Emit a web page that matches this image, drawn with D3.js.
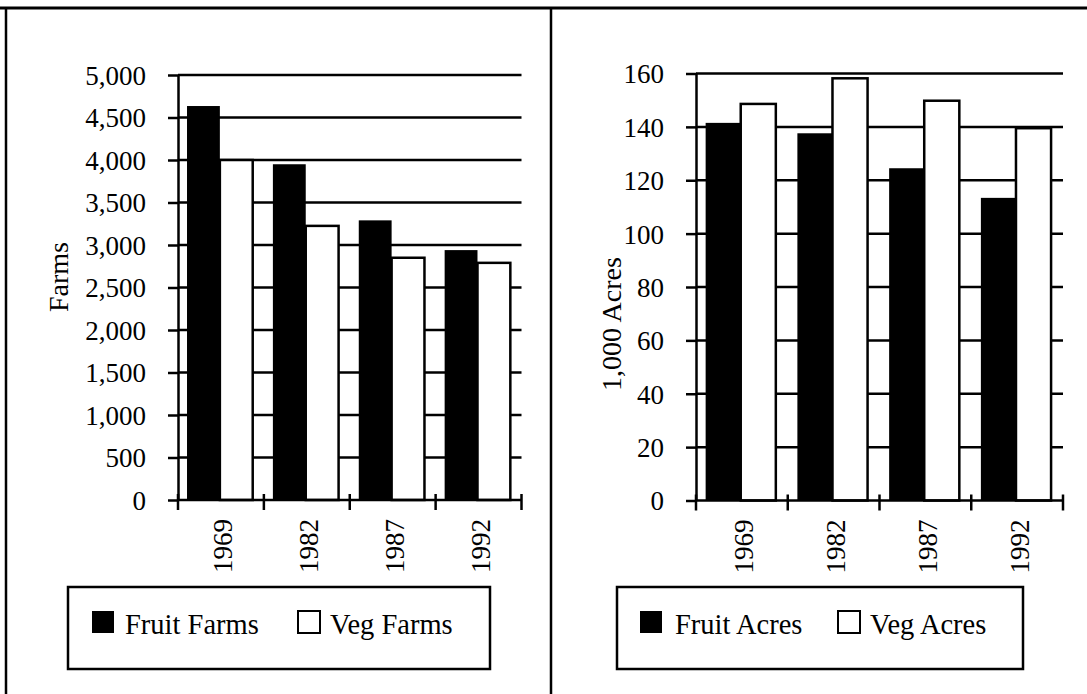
<!DOCTYPE html>
<html>
<head>
<meta charset="utf-8">
<script src="https://cdn.jsdelivr.net/npm/d3@7"></script>
<style>
  html, body { margin: 0; padding: 0; background: #fff; }
  svg { display: block; }
  text { font-family: "Liberation Serif", "Times New Roman", serif; fill: #000; }
</style>
</head>
<body>
<svg id="chart" width="1087" height="694"></svg>
<script>
// ---- data ----
const years = ["1969", "1982", "1987", "1992"];
const fruitFarms = [4635, 3950, 3290, 2940];
const vegFarms = [4000, 3225, 2850, 2790];
const fruitAcres = [141.5, 137.6, 124.5, 113.4];
const vegAcres = [148.6, 158.2, 149.8, 139.5];
const farmTicks = [0, 500, 1000, 1500, 2000, 2500, 3000, 3500, 4000, 4500, 5000];
const acreTicks = [0, 20, 40, 60, 80, 100, 120, 140, 160];
const farmLegend = ["Fruit Farms", "Veg Farms"];
const acreLegend = ["Fruit Acres", "Veg Acres"];

const svg = d3.select("#chart");
const FS = 27;
const LFS = 28.5;

// panel frame
svg.append("line").attr("x1", 0).attr("x2", 1087).attr("y1", 8).attr("y2", 8)
  .attr("stroke", "#000").attr("stroke-width", 3);
svg.append("line").attr("x1", 6).attr("x2", 6).attr("y1", 8).attr("y2", 694)
  .attr("stroke", "#000").attr("stroke-width", 2.5);
svg.append("line").attr("x1", 551).attr("x2", 551).attr("y1", 8).attr("y2", 694)
  .attr("stroke", "#000").attr("stroke-width", 2.5);

function panel(cfg) {
  const g = svg.append("g");
  const x = d3.scaleBand().domain(years).range([cfg.x0, cfg.x1]).padding(0);
  const step = x.bandwidth();
  const inner = d3.scaleBand().domain(["a", "b"]).range([0.105 * step, 0.87 * step]).padding(0);
  const y = d3.scaleLinear().domain([0, cfg.max]).range([cfg.yb, cfg.yt]);

  // gridlines
  g.append("g").selectAll("line").data(cfg.ticks.filter(d => d > 0)).join("line")
    .attr("x1", cfg.x0).attr("x2", cfg.x1)
    .attr("y1", d => y(d)).attr("y2", d => y(d))
    .attr("stroke", "#000").attr("stroke-width", 2.5);

  // fruit bars (black)
  g.append("g").selectAll("rect").data(cfg.a).join("rect")
    .attr("x", (d, i) => x(years[i]) + inner("a"))
    .attr("y", d => y(d))
    .attr("width", inner.bandwidth())
    .attr("height", d => y(0) - y(d))
    .attr("fill", "#000");

  // veg bars (white, outlined)
  g.append("g").selectAll("rect").data(cfg.b).join("rect")
    .attr("x", (d, i) => x(years[i]) + inner("b"))
    .attr("y", d => y(d))
    .attr("width", inner.bandwidth())
    .attr("height", d => y(0) - y(d))
    .attr("fill", "#fff").attr("stroke", "#000").attr("stroke-width", 2.5);

  // y axis
  const ya = g.append("g").attr("transform", `translate(${cfg.x0},0)`)
    .call(d3.axisLeft(y).tickValues(cfg.ticks).tickFormat(d3.format(","))
      .tickSizeInner(10).tickSizeOuter(0).tickPadding(22));
  ya.select(".domain").attr("stroke", "#000").attr("stroke-width", 2.5);
  ya.selectAll(".tick line").attr("stroke", "#000").attr("stroke-width", 2.5).attr("x2", -10).attr("x1", 1);
  ya.selectAll(".tick text").attr("font-size", FS).attr("font-family", "Liberation Serif").attr("dy", "0.35em");

  // x axis
  const xa = g.append("g");
  xa.append("line").attr("x1", cfg.x0).attr("x2", cfg.x1)
    .attr("y1", y(0)).attr("y2", y(0)).attr("stroke", "#000").attr("stroke-width", 2.5);
  const bounds = years.map(d => x(d)).concat([cfg.x1]);
  xa.selectAll("line.tk").data(bounds).join("line").attr("class", "tk")
    .attr("x1", d => d).attr("x2", d => d)
    .attr("y1", y(0) - 6).attr("y2", y(0) + 10)
    .attr("stroke", "#000").attr("stroke-width", 2.5);
  xa.selectAll("text").data(years).join("text")
    .attr("transform", d => `translate(${x(d) + step / 2 + 2},${y(0) + 19}) rotate(-90)`)
    .attr("text-anchor", "end").attr("dy", "0.35em")
    .attr("font-size", FS).text(d => d);

  // axis title
  g.append("text")
    .attr("transform", `translate(${cfg.titleX},${cfg.titleY}) rotate(-90)`)
    .attr("text-anchor", "middle").attr("dy", "0.35em")
    .attr("font-size", 28).text(cfg.title);

  // legend
  const L = cfg.legend;
  g.append("rect").attr("x", L.x).attr("y", L.y).attr("width", L.w).attr("height", L.h)
    .attr("fill", "none").attr("stroke", "#000").attr("stroke-width", 2.5);
  const items = cfg.legendLabels.map((t, i) => ({ t, i }));
  const li = g.append("g").selectAll("g").data(items).join("g")
    .attr("transform", d => `translate(${L.sx[d.i]},0)`);
  li.append("rect").attr("x", 0).attr("y", 611).attr("width", 22).attr("height", 22)
    .attr("fill", d => d.i === 0 ? "#000" : "#fff")
    .attr("stroke", "#000").attr("stroke-width", d => d.i === 0 ? 0 : 2);
  li.append("text").attr("x", d => L.tx[d.i] - L.sx[d.i]).attr("y", 634)
    .attr("font-size", LFS).text(d => d.t);
}

panel({
  x0: 178, x1: 521.5, yb: 500, yt: 75, max: 5000, ticks: farmTicks,
  a: fruitFarms, b: vegFarms, title: "Farms", titleX: 58, titleY: 277,
  legendLabels: farmLegend,
  legend: { x: 68, y: 587, w: 422, h: 82, sx: [92, 298], tx: [125, 330] }
});

panel({
  x0: 696, x1: 1063, yb: 500.5, yt: 73.5, max: 160, ticks: acreTicks,
  a: fruitAcres, b: vegAcres, title: "1,000 Acres", titleX: 611, titleY: 324,
  legendLabels: acreLegend,
  legend: { x: 617, y: 587, w: 406, h: 82, sx: [640, 838], tx: [675, 870] }
});
</script>
</body>
</html>
